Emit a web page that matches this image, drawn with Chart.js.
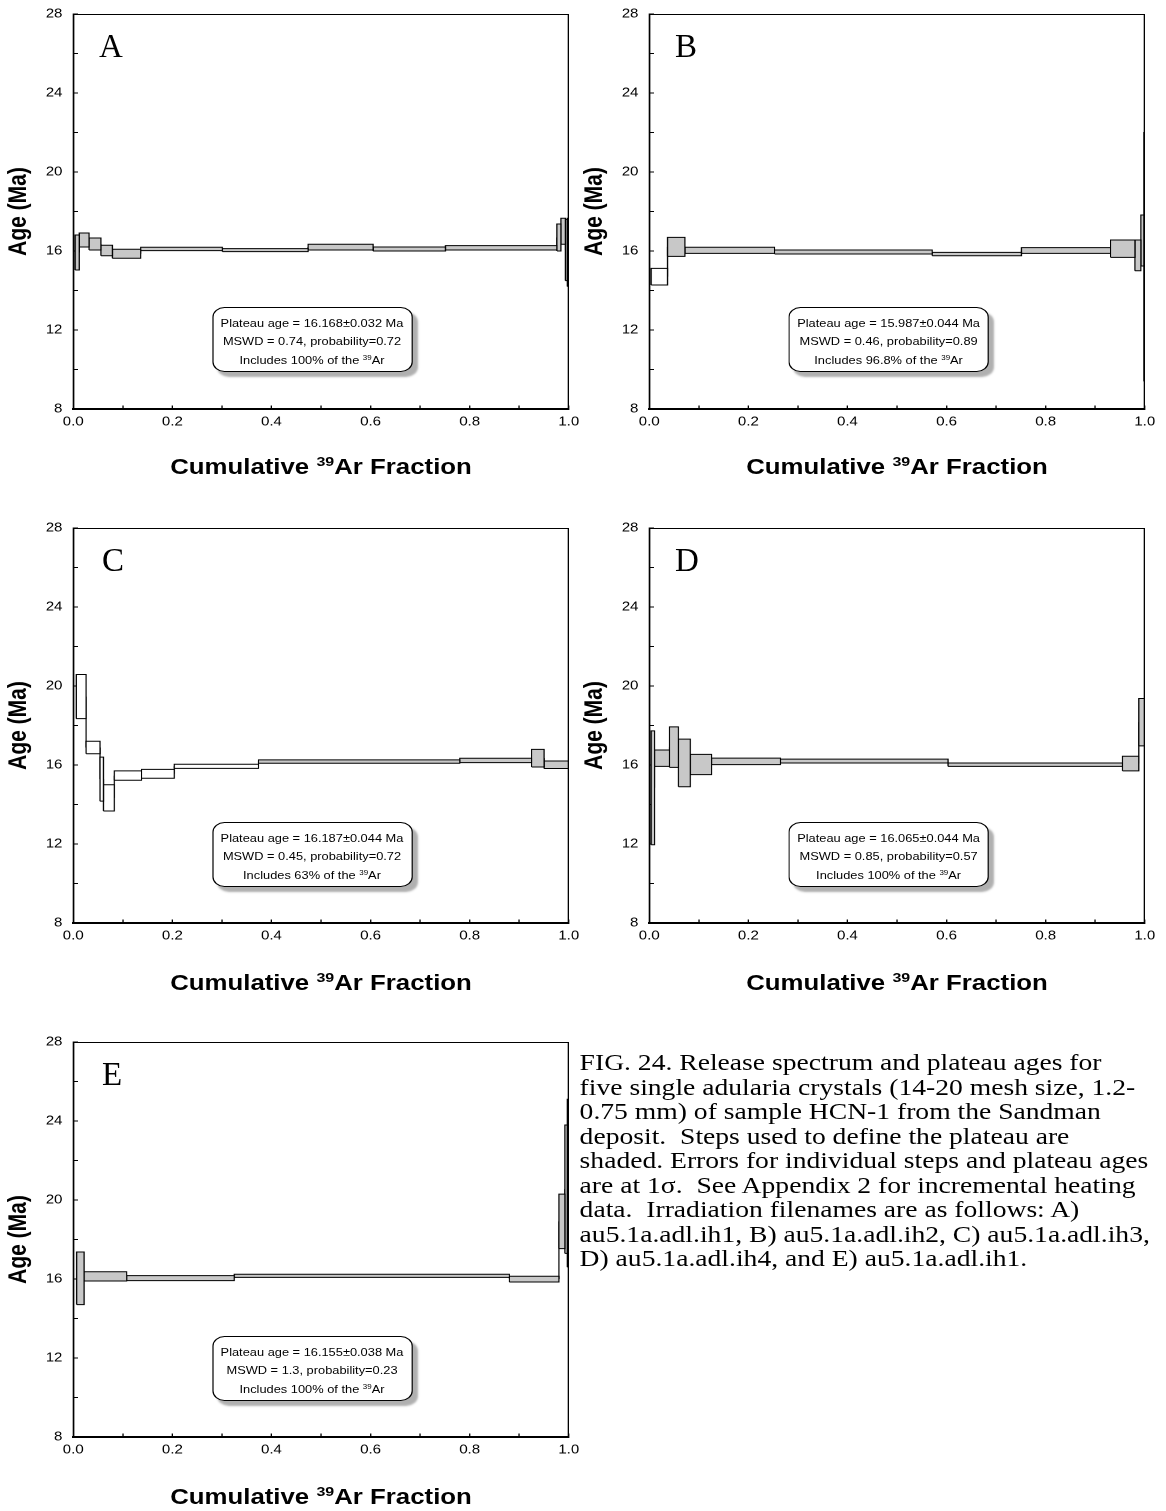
<!DOCTYPE html>
<html lang="en">
<head>
<meta charset="utf-8">
<title>FIG. 24</title>
<script src="https://cdn.jsdelivr.net/npm/chart.js@4.4.1/dist/chart.umd.min.js"></script>
<style>
  body { margin: 0; background: #fff; width: 1166px; height: 1511px; overflow: hidden; position: relative; }
  /* a figura original esta esticada na horizontal */
  #palco { position: absolute; left: 0; top: 0; width: 972px; height: 1511px; transform: scaleX(1.2); transform-origin: 0 0; font-family: "Liberation Sans", Arial, sans-serif; color: #000; }
  #palco canvas { position: absolute; }
  .caixa { position: absolute; width: 167px; height: 65px; box-sizing: border-box; border: 1px solid #000; border-radius: 10px; background: #fff; box-shadow: 4px 5px 2px #b0b0b0; font-size: 10.7px; line-height: 18.3px; text-align: center; padding-top: 6px; white-space: nowrap; }
  .sup { font-size: 0.62em; position: relative; top: -0.6em; }
  .tituloX { position: absolute; width: 413px; text-align: center; font-weight: bold; font-size: 21.5px; line-height: 24px; white-space: nowrap; }
  .letra { position: absolute; font-family: "Liberation Serif", "Times New Roman", serif; font-size: 33px; line-height: 33px; color: #000; }
  #legenda { position: absolute; left: 483px; top: 1051px; font-family: "Liberation Serif", "Times New Roman", serif; font-size: 23px; line-height: 24.5px; white-space: nowrap; }
</style>
</head>
<body>
<div id="palco">
  <canvas id="graficoA" width="484" height="440" style="left:0px;top:0px"></canvas>
  <canvas id="graficoB" width="484" height="440" style="left:480px;top:0px"></canvas>
  <canvas id="graficoC" width="484" height="440" style="left:0px;top:514px"></canvas>
  <canvas id="graficoD" width="484" height="440" style="left:480px;top:514px"></canvas>
  <canvas id="graficoE" width="484" height="440" style="left:0px;top:1028px"></canvas>

  <div class="caixa" id="caixaA" style="left:176.5px;top:307px"></div>
  <div class="caixa" id="caixaB" style="left:657px;top:307px"></div>
  <div class="caixa" id="caixaC" style="left:176.5px;top:822px"></div>
  <div class="caixa" id="caixaD" style="left:657px;top:822px"></div>
  <div class="caixa" id="caixaE" style="left:176.5px;top:1336px"></div>

  <div class="tituloX" style="left:61px;top:455px">Cumulative <span class="sup">39</span>Ar Fraction</div>
  <div class="tituloX" style="left:541px;top:455px">Cumulative <span class="sup">39</span>Ar Fraction</div>
  <div class="tituloX" style="left:61px;top:971px">Cumulative <span class="sup">39</span>Ar Fraction</div>
  <div class="tituloX" style="left:541px;top:971px">Cumulative <span class="sup">39</span>Ar Fraction</div>
  <div class="tituloX" style="left:61px;top:1485px">Cumulative <span class="sup">39</span>Ar Fraction</div>

  <div id="legenda">FIG. 24. Release spectrum and plateau ages for<br>
five single adularia crystals (14-20 mesh size, 1.2-<br>
0.75 mm) of sample HCN-1 from the Sandman<br>
deposit.&nbsp; Steps used to define the plateau are<br>
shaded. Errors for individual steps and plateau ages<br>
are at 1σ.&nbsp; See Appendix 2 for incremental heating<br>
data.&nbsp; Irradiation filenames are as follows: A)<br>
au5.1a.adl.ih1, B) au5.1a.adl.ih2, C) au5.1a.adl.ih3,<br>
D) au5.1a.adl.ih4, and E) au5.1a.adl.ih1.</div>
</div>

<div class="letra" style="left:99px;top:30px">A</div>
<div class="letra" style="left:675px;top:30px">B</div>
<div class="letra" style="left:102px;top:544px">C</div>
<div class="letra" style="left:675px;top:544px">D</div>
<div class="letra" style="left:102px;top:1058px">E</div>

<script>
// degraus: bordas = fracao acumulada de 39Ar, minimos/maximos = idade +- 1 sigma (Ma)
const bordasA = [0.004, 0.012, 0.032, 0.056, 0.079, 0.136, 0.301, 0.474, 0.605, 0.751, 0.976, 0.984, 0.993, 0.997, 1.0]
const minimosA = [15.04, 16.20, 16.05, 15.76, 15.63, 16.02, 15.97, 16.05, 16.00, 16.05, 16.00, 16.34, 14.50, 14.20]
const maximosA = [16.81, 16.91, 16.66, 16.29, 16.09, 16.19, 16.12, 16.34, 16.20, 16.27, 17.37, 17.66, 17.60, 17.66]
const sombreadoA = [1, 1, 1, 1, 1, 1, 1, 1, 1, 1, 1, 1, 1, 1]

const bordasB = [0.004, 0.037, 0.072, 0.253, 0.571, 0.751, 0.931, 0.980, 0.992, 0.998, 1.0]
const minimosB = [14.28, 15.73, 15.88, 15.85, 15.76, 15.88, 15.68, 15.00, 15.24, 9.40]
const maximosB = [15.12, 16.69, 16.19, 16.05, 15.93, 16.17, 16.56, 16.56, 17.82, 22.00]
const sombreadoB = [0, 1, 1, 1, 1, 1, 1, 1, 1, 0]

const bordasC = [0.006, 0.026, 0.054, 0.061, 0.083, 0.138, 0.204, 0.374, 0.780, 0.925, 0.950, 1.0]
const minimosC = [18.35, 16.57, 14.17, 13.67, 15.23, 15.33, 15.83, 16.09, 16.12, 15.90, 15.82]
const maximosC = [20.58, 17.20, 16.40, 15.00, 15.70, 15.78, 16.04, 16.26, 16.34, 16.79, 16.20]
const sombreadoC = [0, 0, 0, 0, 0, 0, 0, 1, 1, 1, 1]

const bordasD = [0.004, 0.011, 0.041, 0.059, 0.083, 0.126, 0.265, 0.603, 0.955, 0.988, 1.0]
const minimosD = [11.96, 15.93, 15.88, 14.90, 15.51, 16.02, 16.10, 15.93, 15.70, 16.97]
const maximosD = [17.73, 16.76, 17.93, 17.31, 16.54, 16.35, 16.30, 16.10, 16.44, 19.37]
const sombreadoD = [1, 1, 1, 1, 1, 1, 1, 1, 1, 1]

const bordasE = [0.007, 0.022, 0.108, 0.325, 0.880, 0.980, 0.992, 0.997, 1.0]
const minimosE = [14.70, 15.90, 15.92, 16.08, 15.85, 17.54, 17.30, 16.60]
const maximosE = [17.37, 16.37, 16.17, 16.24, 16.14, 20.30, 23.80, 25.10]
const sombreadoE = [1, 1, 1, 1, 1, 1, 1, 1]

// textos das caixas de plateau
const idadesPlato = ["16.168±0.032", "15.987±0.044", "16.187±0.044", "16.065±0.044", "16.155±0.038"]
const mswds = ["0.74", "0.46", "0.45", "0.85", "1.3"]
const probabilidades = ["0.72", "0.89", "0.72", "0.57", "0.23"]
const porcentagens = ["100%", "96.8%", "63%", "100%", "100%"]

const letras = ["A", "B", "C", "D", "E"]

letras.forEach((letra, i) => {
  document.querySelector("#caixa" + letra).innerHTML =
    `Plateau age = ${idadesPlato[i]} Ma<br>MSWD = ${mswds[i]}, probability=${probabilidades[i]}<br>Includes ${porcentagens[i]} of the <span class="sup">39</span>Ar`
})

const moldura = {
  id: 'moldura',
  afterDatasetsDraw(grafico) {
    const {ctx, chartArea} = grafico
    ctx.save()
    ctx.strokeStyle = '#000'
    ctx.lineWidth = 1
    ctx.beginPath()
    ctx.moveTo(chartArea.left, chartArea.top + 0.5)
    ctx.lineTo(chartArea.right - 0.5, chartArea.top + 0.5)
    ctx.lineTo(chartArea.right - 0.5, chartArea.bottom)
    ctx.stroke()
    ctx.restore()
  }
}

function gerandoGrafico(idCanvas, bordas, minimos, maximos, sombreado) {
  const conjuntos = []
  // linhas verticais ligando o centro de um degrau ao seguinte
  const ligacoes = []
  for (let i = 1; i < minimos.length; i++) {
    const anterior = (minimos[i - 1] + maximos[i - 1]) / 2
    const atual = (minimos[i] + maximos[i]) / 2
    ligacoes.push({x: bordas[i], y: anterior}, {x: bordas[i], y: atual}, {x: bordas[i], y: null})
  }
  conjuntos.push({
    data: ligacoes,
    showLine: true,
    fill: false,
    spanGaps: false,
    borderColor: '#000',
    borderWidth: 1,
    pointRadius: 0,
    order: 2
  })
  minimos.forEach((minimo, i) => {
    conjuntos.push({
      data: [
        {x: bordas[i], y: minimo},
        {x: bordas[i + 1], y: minimo},
        {x: bordas[i + 1], y: maximos[i]},
        {x: bordas[i], y: maximos[i]},
        {x: bordas[i], y: minimo}
      ],
      showLine: true,
      fill: 'shape',
      backgroundColor: sombreado[i] ? '#c8c8c8' : '#ffffff',
      borderColor: '#000',
      borderWidth: 1,
      pointRadius: 0,
      order: 1
    })
  })

  const fonteTicks = {family: 'Liberation Sans', size: 12.5}

  new Chart(document.querySelector(idCanvas).getContext("2d"), {
    type: 'scatter',
    data: {datasets: conjuntos},
    options: {
      responsive: false,
      animation: false,
      events: [],
      devicePixelRatio: 2,
      layout: {padding: {top: 14, right: 10, bottom: 1, left: 0}},
      plugins: {legend: {display: false}, tooltip: {enabled: false}},
      scales: {
        x: {
          type: 'linear',
          min: 0,
          max: 1,
          border: {display: true, color: '#000', width: 2},
          grid: {drawOnChartArea: false, drawTicks: true, tickLength: -3.5, tickColor: '#000', tickWidth: 1},
          ticks: {
            stepSize: 0.1,
            autoSkip: false,
            maxRotation: 0,
            padding: 9,
            color: '#000',
            font: fonteTicks,
            callback: valor => Math.round(valor * 10) % 2 === 0 ? valor.toFixed(1) : ''
          },
          afterFit: escala => {
            escala.height = 30
            escala.paddingLeft = 0
            escala.paddingRight = 0
          }
        },
        y: {
          type: 'linear',
          min: 8,
          max: 28,
          border: {display: true, color: '#000', width: 1.5},
          grid: {drawOnChartArea: false, drawTicks: true, tickLength: -4, tickColor: '#000', tickWidth: 1},
          ticks: {
            stepSize: 2,
            autoSkip: false,
            padding: 13,
            color: '#000',
            font: fonteTicks,
            callback: valor => valor % 4 === 0 ? valor : ''
          },
          title: {
            display: true,
            text: 'Age (Ma)',
            color: '#000',
            font: {family: 'Liberation Sans', size: 21, weight: 'bold'},
            padding: {top: 3, bottom: 0}
          },
          afterFit: escala => {
            escala.width = 61
            escala.paddingTop = 0
            escala.paddingBottom = 0
          }
        }
      }
    },
    plugins: [moldura]
  })
}

gerandoGrafico("#graficoA", bordasA, minimosA, maximosA, sombreadoA)
gerandoGrafico("#graficoB", bordasB, minimosB, maximosB, sombreadoB)
gerandoGrafico("#graficoC", bordasC, minimosC, maximosC, sombreadoC)
gerandoGrafico("#graficoD", bordasD, minimosD, maximosD, sombreadoD)
gerandoGrafico("#graficoE", bordasE, minimosE, maximosE, sombreadoE)
</script>
</body>
</html>
